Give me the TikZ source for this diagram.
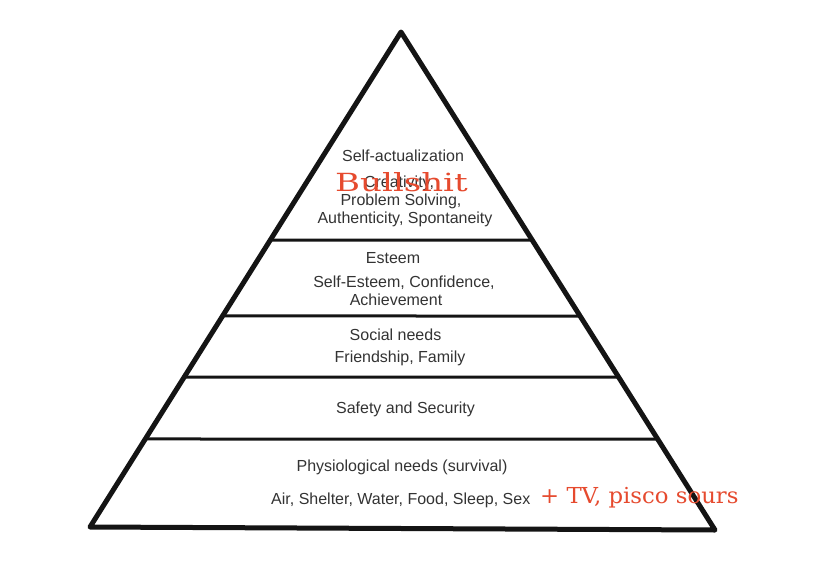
\documentclass[tikz,border=0pt]{standalone}
\usepackage{fontspec}
\setmainfont{Liberation Sans}
\newfontfamily\redfont{DejaVu Serif}
\usetikzlibrary{calc}
\definecolor{txtgray}{HTML}{333333}
\definecolor{redtxt}{HTML}{E64A2E}
\definecolor{edge}{HTML}{141414}
\begin{document}
\begin{tikzpicture}[x=1pt,y=-1pt,
  lbl/.style={text=txtgray,font=\fontsize{16}{18}\selectfont,inner sep=0pt,anchor=base},
  redlbl/.style={text=redtxt,inner sep=0pt},
  outline/.style={draw=edge,line width=5pt,line join=round},
  levelline/.style={draw=edge,line width=3pt}]
\useasboundingbox[fill=white] (0,0) rectangle (819,570);
\coordinate (A) at (401,32);
\coordinate (L) at (90,527);
\coordinate (R) at (715,530);
% level lines
\draw[levelline] ($(A)!0.4202!(L)$) coordinate (l1) -- ($(A)!0.4177!(R)$) coordinate (r1);
\draw[levelline] ($(A)!0.5737!(L)$) coordinate (l2) -- ($(A)!0.5703!(R)$) coordinate (r2);
\draw[levelline] ($(A)!0.6970!(L)$) coordinate (l3) -- ($(A)!0.6928!(R)$) coordinate (r3);
\draw[levelline] ($(A)!0.8222!(L)$) coordinate (l4) -- ($(A)!0.8173!(R)$) coordinate (r4);
\draw[outline] (A) -- (L) -- (R) -- cycle;
% texts
\node[lbl] (sa) at (403,161) {Self-actualization};
\node[lbl] (cr) at (399,187.5) {Creativity,};
\node[lbl] (ps) at (401,205.5) {Problem Solving,};
\node[lbl] (au) at (405,223) {Authenticity, Spontaneity};
\node[lbl] (es) at (393,263) {Esteem};
\node[lbl] (se) at (404,287) {Self-Esteem, Confidence,};
\node[lbl] (ac) at (396,305) {Achievement};
\node[lbl] (sn) at (395.5,340) {Social needs};
\node[lbl] (fr) at (400,362) {Friendship, Family};
\node[lbl] (sf) at (405.5,413.5) {Safety and Security};
\node[lbl] (ph) at (402,471) {Physiological needs (survival)};
\node[lbl,anchor=base west] (air) at (271,504) {Air, Shelter, Water, Food, Sleep, Sex};
\node[redlbl,anchor=base] (bs) at (401.5,191) {\scalebox{1.36}[1]{\redfont\fontsize{25}{27}\selectfont Bullshit}};
\node[redlbl,anchor=base west] (tv) at (540,503) {\scalebox{1.035}[1]{\redfont\fontsize{22}{24}\selectfont + TV, pisco sours}};
\end{tikzpicture}
\end{document}
